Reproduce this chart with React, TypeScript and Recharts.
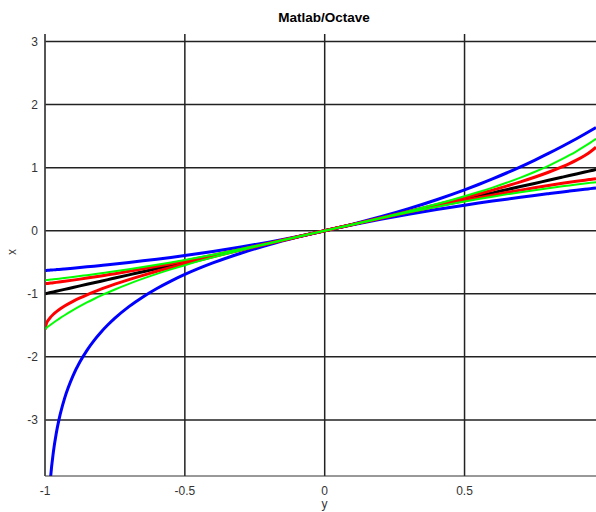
import React from "react";
import { CartesianGrid, Label, Line, LineChart, XAxis, YAxis } from "recharts";

// sample positions along the horizontal axis
const xs = [
  -1, -0.995, -0.99, -0.98, -0.97, -0.96, -0.95, -0.93, -0.9, -0.875, -0.85, -0.825, -0.8, -0.775, -0.75, -0.7, -0.65,
  -0.6, -0.55, -0.5, -0.4, -0.3, -0.2, -0.1, 0, 0.1, 0.2, 0.3, 0.4, 0.5, 0.55, 0.6, 0.65, 0.7, 0.75, 0.8, 0.85, 0.875,
  0.9, 0.93, 0.95, 0.97,
];

const blackLine = [
  -1, -0.995, -0.99, -0.98, -0.97, -0.96, -0.95, -0.93, -0.9, -0.875, -0.85, -0.825, -0.8, -0.775, -0.75, -0.7, -0.65,
  -0.6, -0.55, -0.5, -0.4, -0.3, -0.2, -0.1, 0, 0.1, 0.2, 0.3, 0.4, 0.5, 0.55, 0.6, 0.65, 0.7, 0.75, 0.8, 0.85, 0.875,
  0.9, 0.93, 0.95, 0.97,
];

const blueLow = [
  null, -5.2983, -4.6052, -3.912, -3.5066, -3.2189, -2.9957, -2.6593, -2.3026, -2.0794, -1.8971, -1.743, -1.6094,
  -1.4917, -1.3863, -1.204, -1.0498, -0.9163, -0.7985, -0.6931, -0.5108, -0.3567, -0.2231, -0.1054, 0, 0.0953, 0.1823,
  0.2624, 0.3365, 0.4055, 0.4383, 0.47, 0.5008, 0.5306, 0.5596, 0.5878, 0.6152, 0.6286, 0.6419, 0.6575, 0.6678, 0.678,
];

const blueHigh = [
  -0.6321, -0.6303, -0.6284, -0.6247, -0.6209, -0.6171, -0.6133, -0.6054, -0.5934, -0.5831, -0.5726, -0.5618, -0.5507,
  -0.5393, -0.5276, -0.5034, -0.478, -0.4512, -0.4231, -0.3935, -0.3297, -0.2592, -0.1813, -0.0952, 0, 0.1052, 0.2214,
  0.3499, 0.4918, 0.6487, 0.7333, 0.8221, 0.9155, 1.0138, 1.117, 1.2255, 1.3396, 1.3989, 1.4596, 1.5345, 1.5857, 1.6379,
];

const redSteep = [
  -1.5708, -1.4708, -1.4293, -1.3705, -1.3252, -1.287, -1.2532, -1.1944, -1.1198, -1.0654, -1.016, -0.9702, -0.9273,
  -0.8867, -0.8481, -0.7754, -0.7076, -0.6435, -0.5824, -0.5236, -0.4115, -0.3047, -0.2014, -0.1002, 0, 0.1002, 0.2014,
  0.3047, 0.4115, 0.5236, 0.5824, 0.6435, 0.7076, 0.7754, 0.8481, 0.9273, 1.016, 1.0654, 1.1198, 1.1944, 1.2532, 1.3252,
];

const redFlat = [
  -0.8415, -0.8388, -0.836, -0.8305, -0.8249, -0.8192, -0.8134, -0.8016, -0.7833, -0.7675, -0.7513, -0.7345, -0.7174,
  -0.6997, -0.6816, -0.6442, -0.6052, -0.5646, -0.5227, -0.4794, -0.3894, -0.2955, -0.1987, -0.0998, 0, 0.0998, 0.1987,
  0.2955, 0.3894, 0.4794, 0.5227, 0.5646, 0.6052, 0.6442, 0.6816, 0.7174, 0.7513, 0.7675, 0.7833, 0.8016, 0.8134, 0.8249,
];

const greenSteep = [
  -1.5574, -1.5404, -1.5237, -1.491, -1.4592, -1.4284, -1.3984, -1.3409, -1.2602, -1.1974, -1.1378, -1.0825, -1.0296,
  -0.9794, -0.9316, -0.8423, -0.7602, -0.6841, -0.6131, -0.5463, -0.4228, -0.3093, -0.2027, -0.1003, 0, 0.1003, 0.2027,
  0.3093, 0.4228, 0.5463, 0.6131, 0.6841, 0.7602, 0.8423, 0.9316, 1.0296, 1.1378, 1.1974, 1.2602, 1.3409, 1.3984, 1.4592,
];

const greenFlat = [
  -0.7854, -0.7829, -0.7804, -0.7753, -0.7702, -0.765, -0.7598, -0.7491, -0.7328, -0.7188, -0.7045, -0.6898, -0.6747,
  -0.6593, -0.6435, -0.6107, -0.5764, -0.5404, -0.5028, -0.4636, -0.3805, -0.2915, -0.1974, -0.0997, 0, 0.0997, 0.1974,
  0.2915, 0.3805, 0.4636, 0.5028, 0.5404, 0.5764, 0.6107, 0.6435, 0.6747, 0.7045, 0.7188, 0.7328, 0.7491, 0.7598, 0.7702,
];

const xTicks = [-1, -0.5, 0, 0.5];
const yTicks = [-3, -2, -1, 0, 1, 2, 3];

const data = xs.map((x, i) => ({
  x,
  black: blackLine[i],
  blueLow: blueLow[i],
  blueHigh: blueHigh[i],
  redSteep: redSteep[i],
  redFlat: redFlat[i],
  greenSteep: greenSteep[i],
  greenFlat: greenFlat[i],
}));

const series = [
  { key: "black", color: "#000000", width: 3 },
  { key: "blueLow", color: "#0000ff", width: 3 },
  { key: "blueHigh", color: "#0000ff", width: 3 },
  { key: "redSteep", color: "#ff0000", width: 3 },
  { key: "redFlat", color: "#ff0000", width: 3 },
  { key: "greenSteep", color: "#00ff00", width: 2 },
  { key: "greenFlat", color: "#00ff00", width: 2 },
];

const font = "'Liberation Sans', Arial, sans-serif";
const tickStyle = { fontSize: 12, fill: "#333", fontFamily: font };

export default function App() {
  return (
    <div style={{ position: "absolute", left: 0, top: 0, width: 596, height: 512, overflow: "hidden", background: "#fff" }}>
      <div
        style={{
          position: "absolute",
          left: 224,
          width: 200,
          top: 9.6,
          textAlign: "center",
          fontFamily: font,
          fontWeight: "bold",
          fontSize: 13.5,
          lineHeight: "16px",
          color: "#000",
        }}
      >
        Matlab/Octave
      </div>
      <LineChart width={596} height={512} data={data} margin={{ top: 34, right: 0, bottom: 0, left: 0 }}>
        <CartesianGrid stroke="#222" strokeWidth={1.5} syncWithTicks />
        <XAxis
          dataKey="x"
          type="number"
          domain={[-1, 0.97]}
          allowDataOverflow
          ticks={xTicks}
          height={36}
          tickSize={0}
          tickMargin={10}
          tick={tickStyle}
          axisLine={{ stroke: "#333" }}
        >
          <Label value="y" position="insideBottom" offset={4} dx={4} style={tickStyle} />
        </XAxis>
        <YAxis
          type="number"
          domain={[-3.89, 3.12]}
          allowDataOverflow
          ticks={yTicks}
          width={45}
          tickSize={0}
          tickMargin={7}
          tick={tickStyle}
          axisLine={{ stroke: "#555" }}
        >
          <Label value="x" angle={-90} position="insideLeft" offset={15} dx={-3} style={tickStyle} />
        </YAxis>
        {series.map((s) => (
          <Line
            key={s.key}
            type="monotone"
            dataKey={s.key}
            stroke={s.color}
            strokeWidth={s.width}
            dot={false}
            connectNulls={false}
            isAnimationActive={false}
          />
        ))}
      </LineChart>
    </div>
  );
}
